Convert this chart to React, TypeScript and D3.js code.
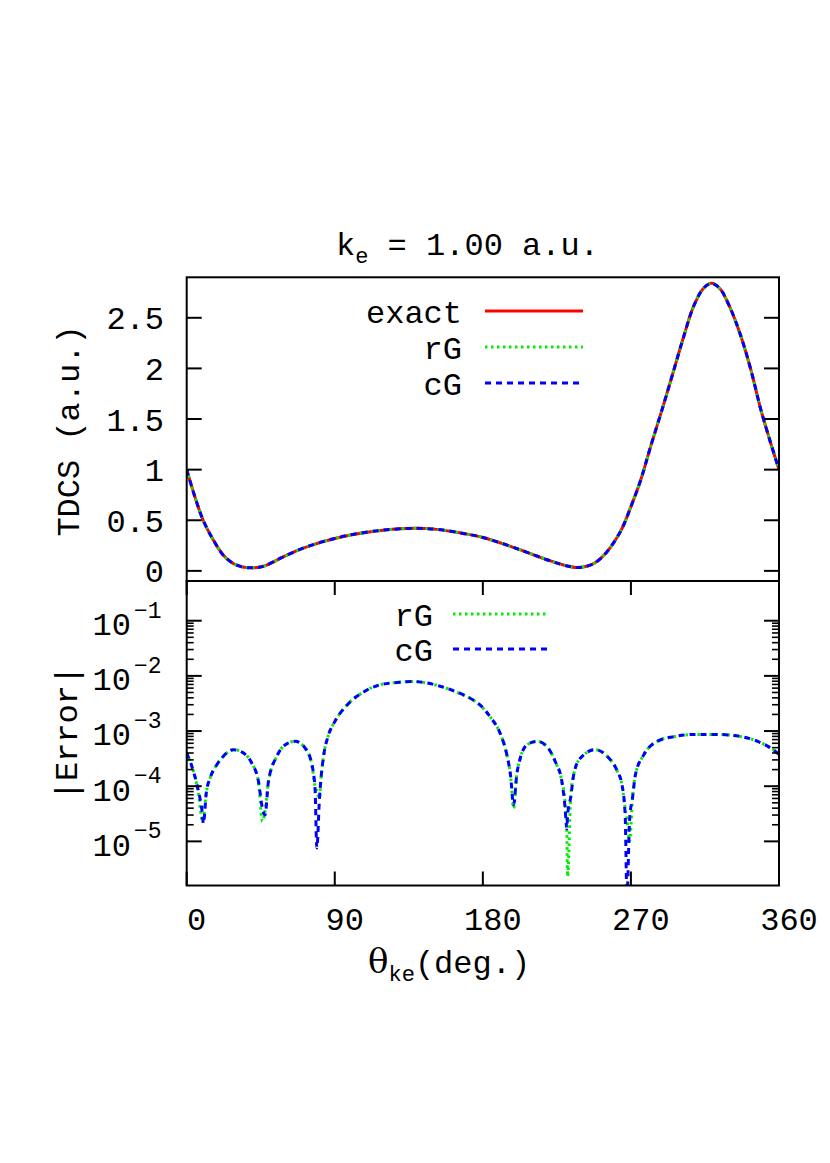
import React from "react";
import * as d3 from "d3";

// ---------- data ----------
const tdcsTheta = [0, 5, 10, 16, 22, 28, 34, 39, 44, 49, 57, 67, 77, 90, 101, 118, 138, 152, 168, 180, 199, 219, 229, 237, 243, 248, 255, 264, 270, 276, 282, 290, 296, 302, 308, 314, 319, 324, 330, 337, 343, 349, 355, 360];
const tdcsExact = [1.0, 0.73, 0.5, 0.31, 0.16, 0.076, 0.038, 0.03, 0.035, 0.06, 0.125, 0.2, 0.26, 0.32, 0.36, 0.4, 0.42, 0.41, 0.37, 0.33, 0.23, 0.11, 0.058, 0.033, 0.045, 0.078, 0.18, 0.4, 0.635, 0.9, 1.23, 1.65, 1.98, 2.31, 2.61, 2.79, 2.84, 2.79, 2.61, 2.31, 1.98, 1.59, 1.26, 1.0];
const tdcsRG = tdcsExact;
const tdcsCG = tdcsExact;

const errTheta = [0, 4, 7, 9.6, 10.1, 12, 14.2, 18.3, 22.3, 28.4, 34.5, 39.6, 43.6, 46, 47.6, 49.7, 54.8, 59.8, 66, 72, 76.1, 78, 79.1, 80.7, 81.5, 83.2, 86.2, 90, 97.4, 107.5, 117.6, 127.8, 138, 144, 154, 164, 174.4, 178.4, 184.5, 190.5, 194.6, 196.8, 198.7, 200.6, 202.7, 206.8, 212.9, 219, 224, 228, 230, 231, 231.5, 233.4, 235.2, 239.2, 248.4, 255.5, 261.6, 264.6, 266.5, 267.6, 269.2, 271, 272.7, 277.8, 286, 296, 310, 320.4, 332.6, 344.8, 355, 360];
const errRG = [4.0e-4, 1.9e-4, 7.9e-5, 2.3e-5, 2.6e-5, 8.0e-5, 1.4e-4, 2.45e-4, 3.5e-4, 4.6e-4, 4.0e-4, 2.6e-4, 1.23e-4, 2.3e-5, 3.5e-5, 1.23e-4, 3.5e-4, 5.6e-4, 6.5e-4, 4.9e-4, 2.45e-4, 1.0e-4, 8.0e-5, 6.0e-5, 1.26e-4, 3.5e-4, 8.5e-4, 1.48e-3, 2.95e-3, 5.1e-3, 6.9e-3, 7.6e-3, 7.9e-3, 7.6e-3, 6.5e-3, 5.1e-3, 3.6e-3, 2.95e-3, 1.8e-3, 9.1e-4, 3.7e-4, 1.6e-4, 4.0e-5, 1.6e-4, 3.2e-4, 5.6e-4, 6.5e-4, 5.2e-4, 2.8e-4, 1.23e-4, 5.0e-5, 1.5e-5, 2.3e-6, 6.3e-5, 1.6e-4, 3.2e-4, 4.6e-4, 3.5e-4, 1.9e-4, 1.05e-4, 4.0e-5, 2.5e-5, 1.0e-5, 6.3e-5, 1.6e-4, 3.7e-4, 6.5e-4, 7.9e-4, 8.7e-4, 8.7e-4, 8.3e-4, 6.9e-4, 4.9e-4, 3.8e-4];
const errCG = [4.0e-4, 1.9e-4, 8.5e-5, 3.0e-5, 2.1e-5, 8.0e-5, 1.4e-4, 2.45e-4, 3.5e-4, 4.6e-4, 4.0e-4, 2.6e-4, 1.23e-4, 4.0e-5, 3.0e-5, 1.23e-4, 3.5e-4, 5.6e-4, 6.5e-4, 4.9e-4, 2.45e-4, 9.0e-5, 7.6e-6, 6.0e-5, 1.26e-4, 3.5e-4, 8.5e-4, 1.48e-3, 2.95e-3, 5.1e-3, 6.9e-3, 7.6e-3, 7.9e-3, 7.6e-3, 6.5e-3, 5.1e-3, 3.6e-3, 2.95e-3, 1.8e-3, 9.1e-4, 3.7e-4, 1.6e-4, 4.6e-5, 1.6e-4, 3.2e-4, 5.6e-4, 6.5e-4, 5.2e-4, 2.8e-4, 1.23e-4, 4.0e-5, 1.7e-5, 3.0e-5, 6.3e-5, 1.6e-4, 3.2e-4, 4.6e-4, 3.5e-4, 1.9e-4, 1.05e-4, 3.0e-5, 1.0e-6, 2.5e-5, 6.3e-5, 1.6e-4, 3.7e-4, 6.5e-4, 7.9e-4, 8.7e-4, 8.7e-4, 8.3e-4, 6.9e-4, 4.9e-4, 3.8e-4];

const xTicks = [0, 90, 180, 270, 360];
const yTopTicks = [0, 0.5, 1, 1.5, 2, 2.5];
const yTopTickLabels = ["0", "0.5", "1", "1.5", "2", "2.5"];
const yBotExponents = [-1, -2, -3, -4, -5];
const topLegend = ["exact", "rG", "cG"];
const botLegend = ["rG", "cG"];

// ---------- layout ----------
const W = 830, H = 1163;
const L = 186.7, R = 779, T1 = 277.3, M = 581, B = 885.5;
const MONO = "'Liberation Mono', 'Courier New', monospace";
const FS = 32;
const colors = { exact: "#ff0000", rG: "#00ee00", cG: "#0000ff" };
const dashes: Record<string, string | undefined> = { exact: undefined, rG: "2.5,3.5", cG: "6,5" };

export default function App() {
  const x = d3.scaleLinear().domain([0, 360]).range([L, R]);
  const yTop = d3.scaleLinear().domain([-0.1, 2.9]).range([M, T1]);
  const yBot = d3.scaleLog().domain([Math.pow(10, -5.8), Math.pow(10, -0.28)]).range([B, M]);

  const lineTop = (vals: number[]) =>
    d3.line<number>().x((_, i) => x(tdcsTheta[i])).y((d) => yTop(d)).curve(d3.curveCatmullRom.alpha(0.5))(vals) || "";
  const lineBot = (vals: number[]) =>
    d3.line<number>().x((_, i) => x(errTheta[i])).y((d) => yBot(d)).curve(d3.curveMonotoneX)(vals) || "";

  const minorTicks: number[] = [];
  for (let e = -5; e <= -2; e++) for (let k = 2; k <= 9; k++) minorTicks.push(k * Math.pow(10, e));

  const topSeries: [string, number[]][] = [["exact", tdcsExact], ["rG", tdcsRG], ["cG", tdcsCG]];
  const botSeries: [string, number[]][] = [["rG", errRG], ["cG", errCG]];

  return (
    <svg width={W} height={H} style={{ position: "absolute", left: 0, top: 0, background: "#fff" }} fontFamily={MONO}>
      <defs>
        <clipPath id="clipTop"><rect x={L} y={T1} width={R - L} height={M - T1} /></clipPath>
        <clipPath id="clipBot"><rect x={L} y={M} width={R - L} height={B - M} /></clipPath>
      </defs>
      <rect x={0} y={0} width={W} height={H} fill="#fff" />

      {/* title */}
      <text x={336} y={255} fontSize={FS} fill="#000">
        k<tspan fontSize={22} dy={8}>e</tspan><tspan dy={-8}>{" = 1.00 a.u."}</tspan>
      </text>

      {/* top panel curves */}
      <g clipPath="url(#clipTop)">
        {topSeries.map(([k, v]) => (
          <path key={k} d={lineTop(v)} fill="none" stroke={(colors as any)[k]} strokeWidth={3} strokeDasharray={dashes[k]} />
        ))}
      </g>
      {/* top y ticks */}
      {yTopTicks.map((t, i) => (
        <g key={"yt" + i}>
          <line x1={L} x2={L + 15} y1={yTop(t)} y2={yTop(t)} stroke="#000" strokeWidth={2} />
          <line x1={R - 15} x2={R} y1={yTop(t)} y2={yTop(t)} stroke="#000" strokeWidth={2} />
          <text x={164} y={yTop(t)} dy="0.36em" textAnchor="end" fontSize={FS}>{yTopTickLabels[i]}</text>
        </g>
      ))}
      {/* top legend */}
      {topLegend.map((k, i) => {
        const ly = 311 + i * 36;
        return (
          <g key={"lt" + k}>
            <text x={462} y={ly + 11.7} textAnchor="end" fontSize={FS}>{k}</text>
            <line x1={485} x2={583} y1={ly} y2={ly} stroke={(colors as any)[k]} strokeWidth={3} strokeDasharray={dashes[k]} />
          </g>
        );
      })}

      {/* bottom panel curves */}
      <g clipPath="url(#clipBot)">
        {botSeries.map(([k, v]) => (
          <path key={k} d={lineBot(v)} fill="none" stroke={(colors as any)[k]} strokeWidth={3} strokeDasharray={dashes[k]} />
        ))}
      </g>
      {/* bottom y ticks */}
      {yBotExponents.map((e) => {
        const yy = yBot(Math.pow(10, e));
        return (
          <g key={"yb" + e}>
            <line x1={L} x2={L + 15} y1={yy} y2={yy} stroke="#000" strokeWidth={2} />
            <line x1={R - 15} x2={R} y1={yy} y2={yy} stroke="#000" strokeWidth={2} />
            <text x={131} y={yy + 14.3} textAnchor="end" fontSize={FS}>10</text>
            <text x={134} y={yy - 3} textAnchor="start" fontSize={23}>{"\u2212" + Math.abs(e)}</text>
          </g>
        );
      })}
      {minorTicks.map((t, i) => (
        <g key={"mn" + i}>
          <line x1={L} x2={L + 7} y1={yBot(t)} y2={yBot(t)} stroke="#000" strokeWidth={1.6} />
          <line x1={R - 7} x2={R} y1={yBot(t)} y2={yBot(t)} stroke="#000" strokeWidth={1.6} />
        </g>
      ))}
      {/* x ticks */}
      {xTicks.map((t) => (
        <g key={"xt" + t}>
          <line x1={x(t)} x2={x(t)} y1={B} y2={B - 14} stroke="#000" strokeWidth={2} />
          <line x1={x(t)} x2={x(t)} y1={M} y2={M + 14} stroke="#000" strokeWidth={2} />
          <text x={x(t) + 10} y={930} textAnchor="middle" fontSize={FS}>{t}</text>
        </g>
      ))}
      {/* bottom legend */}
      {botLegend.map((k, i) => {
        const ly = 614 + i * 35;
        return (
          <g key={"lb" + k}>
            <text x={433} y={ly + 11.7} textAnchor="end" fontSize={FS}>{k}</text>
            <line x1={453} x2={548} y1={ly} y2={ly} stroke={(colors as any)[k]} strokeWidth={3} strokeDasharray={dashes[k]} />
          </g>
        );
      })}

      {/* frames */}
      <rect x={L} y={T1} width={R - L} height={M - T1} fill="none" stroke="#000" strokeWidth={2} />
      <rect x={L} y={M} width={R - L} height={B - M} fill="none" stroke="#000" strokeWidth={2} />

      {/* axis labels */}
      <text transform={`translate(79,431) rotate(-90)`} textAnchor="middle" fontSize={FS}>TDCS (a.u.)</text>
      <text transform={`translate(77,733) rotate(-90)`} textAnchor="middle" fontSize={FS}>|Error|</text>
      <text x={368} y={973} fontSize={FS}>
        <tspan fontFamily="'DejaVu Serif', serif" fontSize={34}>θ</tspan>
        <tspan fontSize={22} dy={8}>ke</tspan>
        <tspan dy={-8}>(deg.)</tspan>
      </text>
    </svg>
  );
}
